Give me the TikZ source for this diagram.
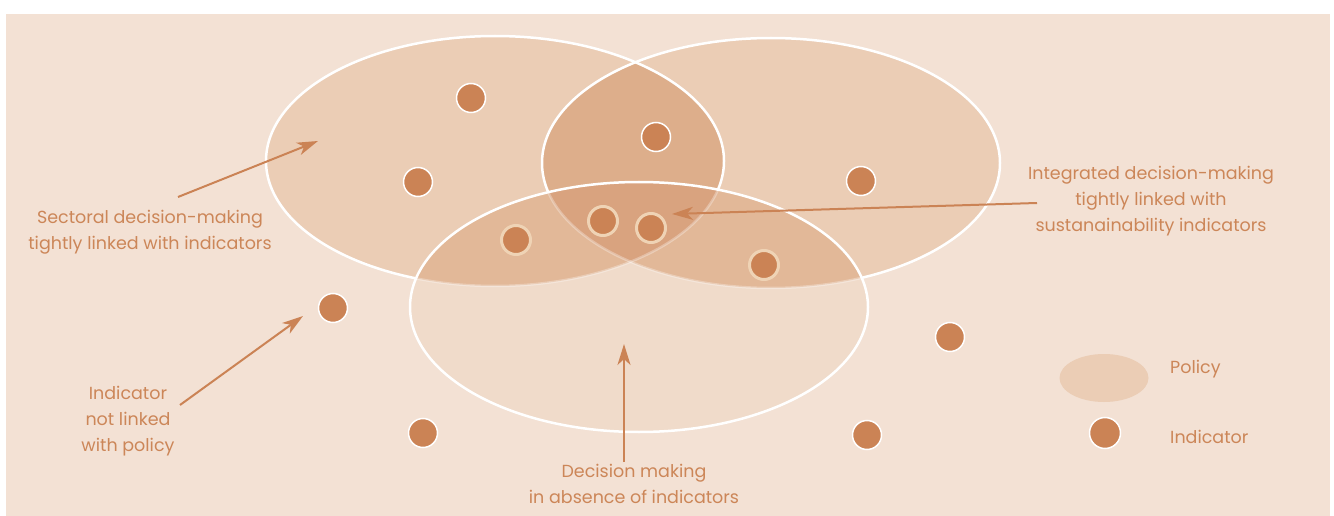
\documentclass[tikz,border=0pt]{standalone}
\usepackage{fontspec}
\setmainfont{Poppins}
\usepackage{xcolor}
\usetikzlibrary{arrows.meta,positioning,shapes.geometric}

\definecolor{paper}{HTML}{F3E1D4}
\definecolor{policyfill}{HTML}{EBCDB5}
\definecolor{overlapfill}{HTML}{DDAE8B}
\definecolor{lowfill}{HTML}{F0DBCA}
\definecolor{midfill}{HTML}{E2B898}
\definecolor{corefill}{HTML}{D9A37F}
\definecolor{dotbrown}{HTML}{CB8355}
\definecolor{ringcream}{HTML}{EFD3B5}
\definecolor{labelbrown}{HTML}{CC8658}

\begin{document}
\begin{tikzpicture}[
    x=1pt, y=-1pt,
    rim/.style={draw=white, line width=2.5pt},
    indicator/.style={circle, fill=dotbrown, draw=white, line width=1.5pt, inner sep=0pt, minimum size=29pt},
    inner indicator/.style={indicator, draw=ringcream, line width=3pt},
    note/.style={text=labelbrown, align=center, inner sep=0pt, font=\fontsize{17.5}{26}\selectfont},
    arrow/.style={->, >={Stealth[length=21pt, width=13pt, inset=6pt]}, draw=dotbrown, line width=2pt}
]
    \useasboundingbox (0,0) rectangle (1334,516);
    \fill[paper] (6,14) rectangle (1330,516);

    \coordinate (left) at (495,161);
    \coordinate (right) at (771,163);
    \coordinate (low) at (639,307);

    % upper policies
    \fill[policyfill] (left) ellipse [x radius=229pt, y radius=125pt];
    \fill[policyfill] (right) ellipse [x radius=229pt, y radius=125pt];
    \begin{scope}
        \clip (left) ellipse [x radius=229pt, y radius=125pt];
        \fill[overlapfill] (right) ellipse [x radius=229pt, y radius=125pt];
    \end{scope}
    \draw[rim] (left) ellipse [x radius=229pt, y radius=125pt];
    \draw[rim] (right) ellipse [x radius=229pt, y radius=125pt];

    % lower policy
    \fill[lowfill] (low) ellipse [x radius=229pt, y radius=125pt];
    \begin{scope}
        \clip (low) ellipse [x radius=229pt, y radius=125pt];
        \fill[midfill] (left) ellipse [x radius=229pt, y radius=125pt];
        \fill[midfill] (right) ellipse [x radius=229pt, y radius=125pt];
        \begin{scope}
            \clip (left) ellipse [x radius=229pt, y radius=125pt];
            \fill[corefill] (right) ellipse [x radius=229pt, y radius=125pt];
        \end{scope}
        \draw[rim, draw opacity=.3] (left) ellipse [x radius=229pt, y radius=125pt];
        \draw[rim, draw opacity=.3] (right) ellipse [x radius=229pt, y radius=125pt];
    \end{scope}
    \draw[rim] (low) ellipse [x radius=229pt, y radius=125pt];

    % indicators
    \node[indicator] (i1) at (471,98) {};
    \node[indicator] (i2) at (418,182) {};
    \node[indicator] (i3) at (656,137) {};
    \node[indicator] (i4) at (861,181) {};
    \node[inner indicator] (i5) at (516,240) {};
    \node[inner indicator] (i6) at (603,221) {};
    \node[inner indicator] (i7) at (651,228) {};
    \node[inner indicator] (i8) at (764,265) {};
    \node[indicator] (i9) at (333,308) {};
    \node[indicator] (i10) at (950,337) {};
    \node[indicator] (i11) at (423,433) {};
    \node[indicator] (i12) at (867,435) {};

    % captions
    \node[note] (sectoral) at (150,232) {Sectoral decision-making\\tightly linked with indicators};
    \node[note] (unlinked) at (128,421) {Indicator\\not linked\\with policy};
    \node[note] (integrated) at (1151,201) {Integrated decision-making\\tightly linked with\\sustanainability indicators};
    \node[note] (absence) at (634,484) {Decision making\\in absence of indicators};

    % legend
    \node[ellipse, fill=policyfill, inner sep=0pt, minimum width=89pt, minimum height=48pt] (policykey) at (1104,378) {};
    \node[indicator, minimum size=31pt] (indicatorkey) at (1105,433) {};
    \node[note, anchor=west] (policytext) at (1170,369) {Policy};
    \node[note, anchor=west] (indicatortext) at (1170,437) {Indicator};

    % arrows
    \coordinate (sectoraltail) at (178,197);
    \coordinate (sectoraltip) at (318,141);
    \coordinate (unlinkedtail) at (180,405);
    \coordinate (unlinkedtip) at (303,316);
    \coordinate (integratedtail) at (1037,203);
    \coordinate (integratedtip) at (672,214);
    \coordinate (absencetail) at (624,462);
    \coordinate (absencetip) at (624,344);
    \draw[arrow] (sectoraltail) -- (sectoraltip);
    \draw[arrow] (unlinkedtail) -- (unlinkedtip);
    \draw[arrow] (integratedtail) -- (integratedtip);
    \draw[arrow] (absencetail) -- (absencetip);
\end{tikzpicture}
\end{document}
